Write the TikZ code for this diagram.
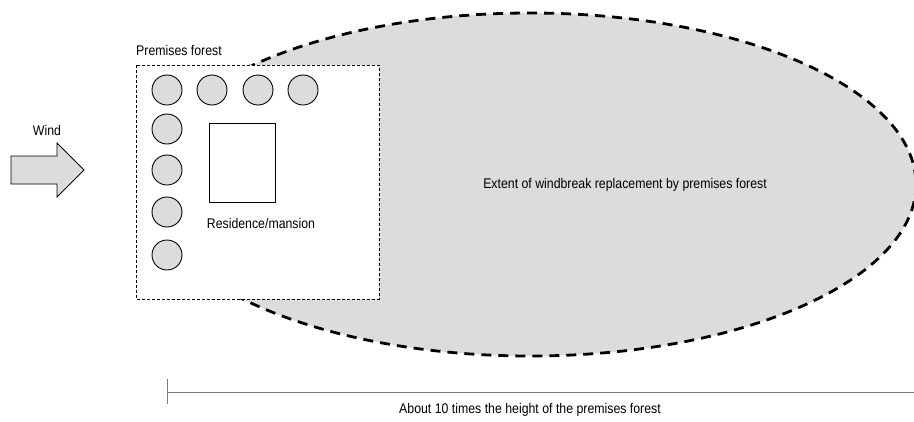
\documentclass[tikz,border=0pt]{standalone}
\usepackage{fontspec}
\setmainfont[FakeStretch=0.88]{Liberation Sans}
\definecolor{zone}{HTML}{DCDCDC}
\definecolor{rulegray}{HTML}{7A7A7A}
\begin{document}
\begin{tikzpicture}[x=1pt,y=-1pt,
  tree/.style={circle,draw=black,line width=0.9pt,fill=zone,minimum size=30pt,inner sep=0pt},
  lbl/.style={font=\fontsize{14}{16}\selectfont,inner sep=0pt},
  extent/.style={draw=black,line width=2.8pt,dash pattern=on 10pt off 7pt,fill=zone},
  plot/.style={draw=black,line width=0.8pt,dash pattern=on 3pt off 2pt,fill=white},
  house/.style={draw=black,line width=1pt,fill=white},
  windarrow/.style={draw=black,line width=0.8pt,fill=zone},
  scaleline/.style={draw=rulegray,line width=1pt}]
\useasboundingbox (0,0) rectangle (914,421);
% extent ellipse
\draw[extent] (530,184.5) ellipse [x radius=386, y radius=171.5];
\node[lbl] (extentlbl) at (625,185) {Extent of windbreak replacement by premises forest};
% premises plot
\draw[plot] (136,65) rectangle (379,299);
\node[lbl,anchor=west] (plotlbl) at (136,50) {Premises forest};
% trees
\node[tree] (t1) at (167,90) {};
\node[tree] (t2) at (212,90) {};
\node[tree] (t3) at (258,90) {};
\node[tree] (t4) at (303,90) {};
\node[tree] (t5) at (167,129) {};
\node[tree] (t6) at (167,170) {};
\node[tree] (t7) at (167,212) {};
\node[tree] (t8) at (167,255) {};
% residence
\draw[house] (209,123) rectangle (275,202);
\node[lbl] (houselbl) at (261,223) {Residence/mansion};
% wind arrow
\draw[windarrow] (11,156) -- (57,156) -- (57,143) -- (84,170) -- (57,197) -- (57,184) -- (11,184) -- cycle;
\node[lbl] (windlbl) at (47,130) {Wind};
% scale
\coordinate (sa) at (167,392);
\coordinate (sb) at (914,392);
\coordinate (ta) at (167,379);
\coordinate (tb) at (167,404);
\draw[scaleline] (sa) -- (sb);
\draw[scaleline] (ta) -- (tb);
\node[lbl] (scalelbl) at (530,410) {About 10 times the height of the premises forest};
\end{tikzpicture}
\end{document}
